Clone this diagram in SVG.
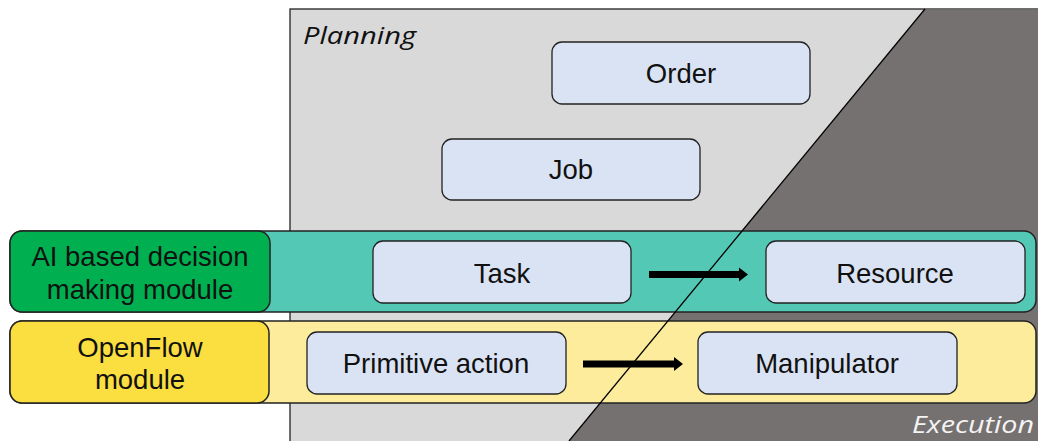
<svg xmlns="http://www.w3.org/2000/svg" width="1038" height="441" viewBox="0 0 1038 441">
<defs>
<style>
.node rect{fill:#DAE3F3;stroke:#222;stroke-width:1.3}
.lbl{font-family:"Liberation Sans",Arial,sans-serif;font-size:27.5px;fill:#111;text-anchor:middle}
.it{font-family:"Open Sans","Liberation Sans",sans-serif;font-style:italic;font-size:24px}
.band{stroke:#222;stroke-width:1.5}
.arr{fill:#000}
</style>
</defs>
<g id="background">
<rect x="290" y="9" width="760" height="440" fill="#D9D9D9" stroke="#222" stroke-width="1.3"/>
<polygon points="925,9.6 1038,9.6 1038,441 569,441" fill="#767171"/>
<text class="it" x="303" y="44" fill="#111" textLength="113" lengthAdjust="spacingAndGlyphs">Planning</text>
<text class="it" x="912" y="433" fill="#F4F4F4" textLength="122" lengthAdjust="spacingAndGlyphs">Execution</text>
</g>
<g id="band-ai">
<rect class="band" x="10" y="231" width="1026" height="81" rx="12" fill="#53C9B5"/>
</g>
<g id="band-openflow">
<rect class="band" x="10" y="321" width="1026" height="82" rx="12" fill="#FDEC9B"/>
</g>
<g id="divider">
<line x1="925" y1="9" x2="569" y2="441" stroke="#000" stroke-width="1.3"/>
</g>
<g id="ai-module">
<rect class="band" x="10" y="231" width="260" height="81" rx="12" fill="#00B050"/>
<text class="lbl" x="140" y="266">AI based decision</text>
<text class="lbl" x="140" y="299">making module</text>
</g>
<g id="openflow-module">
<rect class="band" x="10" y="321" width="259" height="82" rx="12" fill="#FBDE40"/>
<text class="lbl" x="140" y="357">OpenFlow</text>
<text class="lbl" x="140" y="389">module</text>
</g>
<g id="order" class="node">
<rect x="552" y="42" width="258" height="62" rx="10"/>
<text class="lbl" x="681" y="83">Order</text>
</g>
<g id="job" class="node">
<rect x="442" y="139" width="258" height="61" rx="10"/>
<text class="lbl" x="571" y="179">Job</text>
</g>
<g id="task" class="node">
<rect x="373" y="241" width="258" height="62" rx="10"/>
<text class="lbl" x="502" y="283">Task</text>
</g>
<g id="resource" class="node">
<rect x="766" y="241" width="259" height="62" rx="10"/>
<text class="lbl" x="895" y="283">Resource</text>
</g>
<g id="primitive-action" class="node">
<rect x="307" y="332" width="259" height="62" rx="10"/>
<text class="lbl" x="436" y="373">Primitive action</text>
</g>
<g id="manipulator" class="node">
<rect x="698" y="332" width="259" height="62" rx="10"/>
<text class="lbl" x="827" y="373">Manipulator</text>
</g>
<g id="connectors">
<polygon class="arr" points="649,271 739,271 739,267.5 748,274.5 739,281.5 739,278 649,278"/>
<polygon class="arr" points="583,360.5 674,360.5 674,357 683,364 674,371 674,367.5 583,367.5"/>
</g>
</svg>
